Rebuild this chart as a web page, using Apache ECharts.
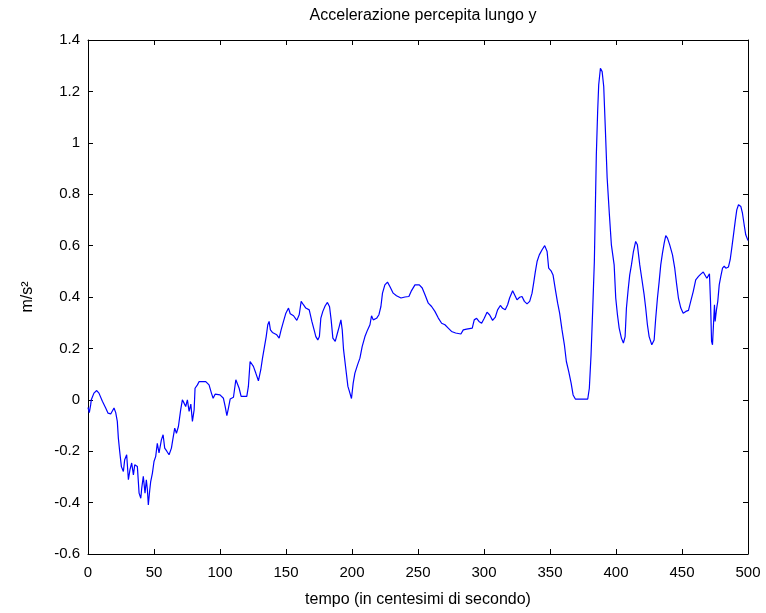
<!DOCTYPE html>
<html>
<head>
<meta charset="utf-8">
<title>Accelerazione percepita lungo y</title>
<script src="https://cdn.jsdelivr.net/npm/echarts@6/dist/echarts.min.js"></script>
<style>
  html, body { margin: 0; padding: 0; background: #ffffff; }
  #chart { width: 766px; height: 613px; }
</style>
</head>
<body>
<div id="chart"></div>
<script>
// Time samples (hundredths of a second)
const tempo = [
  0, 1, 2, 2.5, 4.5, 6.6, 8.3, 10.9, 13.4, 15.2, 17.2, 19.7, 21, 22.2, 23, 24, 25.3, 26.8, 27.8, 29.3,
  30.6, 31.8, 33.1, 34.4, 35.4, 37.4, 38.7, 40, 40.7, 41.9, 43.2, 44.2, 45, 45.7, 46.8, 47.5, 48.8, 50,
  51.3, 52.5, 53.8, 55.6, 56.9, 58.1, 59.7, 61.4, 63.2, 64.2, 65.7, 67, 68.5, 69.9, 70.2, 71.5, 72.8,
  74, 75.3, 76.6, 77.9, 79.1, 80.4, 81.1, 82.9, 84.2, 89.2, 91.7, 93.5, 94.8, 96.3, 100, 102.6, 103.9,
  105.2, 106.4, 107.7, 110.2, 112, 113.2, 114.5, 116, 120.3, 121.5, 122.8, 124, 125.3, 127.1, 129.1,
  130.9, 132.2, 133.7, 135, 136.2, 137.2, 138.2, 139.7, 143, 144.8, 146.3, 148.1, 149.9, 151.9, 153.2,
  155.7, 158.2, 160, 161.5, 163.2, 165, 167.6, 169.6, 171.3, 172.6, 174.1, 175.3, 176.4, 177.9, 179.7,
  181.4, 183, 184.2, 185.5, 187.3, 189, 190.3, 191.6, 192.6, 193.6, 195.4, 196.9, 198.1, 199.6, 200.9,
  202.2, 204.2, 206, 207.7, 209.8, 211.8, 213.6, 214.8, 216.1, 218.6, 220.4, 221.9, 223.1, 224.9,
  226.9, 228.7, 231.2, 233.7, 237.1, 240.1, 243.1, 245.1, 247.7, 251, 253.2, 255.3, 257.8, 260.3,
  262.8, 265.4, 267.9, 270.4, 272.9, 275.4, 278.5, 282.5, 284.3, 286.8, 291.1, 292.6, 294.4, 296.2,
  298.2, 300.2, 302.3, 304.3, 306.5, 308.6, 310.3, 312.4, 314.1, 316.1, 317.9, 319.4, 321.7, 323.2,
  325, 327, 328.8, 330.6, 332.6, 334.6, 336.4, 337.6, 338.9, 340.2, 341.9, 344, 346, 347.8, 349, 350.8,
  352.3, 354.1, 355.8, 357.3, 359.1, 360.9, 362.4, 364.2, 366, 367.5, 369.2, 378.6, 379.8, 381.1,
  382.3, 383.6, 384.4, 385.1, 386.1, 386.9, 388.2, 389.5, 390.7, 392, 393.3, 395, 396.5, 398.6, 399.8,
  401.1, 402.4, 404.1, 405.6, 406.9, 407.9, 409.2, 410.4, 411.7, 413.2, 414.9, 416.2, 418, 419.5,
  421.3, 422.5, 423.8, 425.1, 427.1, 428.9, 430.1, 431.4, 432.7, 433.9, 435.2, 436.5, 437.7, 439,
  440.7, 442.8, 444.5, 446, 447.3, 449.1, 450.9, 452.9, 454.9, 456.6, 458.5, 460.4, 462.5, 464.2,
  466.1, 467.5, 468.8, 470.1, 470.8, 471.6, 472.4, 473.1, 473.9, 474.6, 475.1, 476.1, 477.1, 478.2,
  479.4, 480.7, 482, 483.2, 485.2, 486.5, 487.7, 489, 490.3, 491.5, 492.8, 494.6, 495.8, 497.1, 498.3,
  500
];

// Perceived acceleration along y (m/s^2)
const accel = [
  -0.03, -0.05, -0.02, 0.0, 0.026, 0.036, 0.026, -0.006, -0.032, -0.052, -0.055, -0.032, -0.05, -0.084,
  -0.149, -0.2, -0.26, -0.279, -0.233, -0.214, -0.311, -0.272, -0.246, -0.292, -0.253, -0.26, -0.363,
  -0.383, -0.344, -0.298, -0.363, -0.311, -0.35, -0.409, -0.35, -0.318, -0.285, -0.24, -0.22, -0.169,
  -0.207, -0.156, -0.136, -0.188, -0.2, -0.214, -0.188, -0.156, -0.11, -0.13, -0.104, -0.104, -0.039,
  0.0, -0.013, -0.026, 0.0, -0.045, -0.017, -0.084, -0.039, 0.045, 0.058, 0.071, 0.071, 0.058, 0.026,
  0.006, 0.022, 0.019, 0.006, -0.026, -0.062, -0.032, 0.003, 0.01, 0.078, 0.084, 0.045, 0.013, 0.013,
  0.052, 0.149, 0.149, 0.13, 0.104, 0.074, 0.117, 0.162, 0.207, 0.246, 0.292, 0.305, 0.272, 0.262,
  0.253, 0.24, 0.272, 0.305, 0.337, 0.357, 0.335, 0.327, 0.309, 0.331, 0.383, 0.37, 0.357, 0.35, 0.305,
  0.272, 0.246, 0.233, 0.246, 0.318, 0.344, 0.366, 0.379, 0.362, 0.311, 0.24, 0.227, 0.26, 0.285, 0.311,
  0.272, 0.195, 0.117, 0.052, 0.032, 0.005, 0.065, 0.104, 0.136, 0.162, 0.207, 0.246, 0.272, 0.292,
  0.327, 0.311, 0.317, 0.331, 0.363, 0.415, 0.447, 0.458, 0.441, 0.415, 0.405, 0.396, 0.4, 0.402, 0.425,
  0.447, 0.447, 0.435, 0.409, 0.376, 0.363, 0.344, 0.318, 0.298, 0.292, 0.279, 0.266, 0.26, 0.256,
  0.272, 0.275, 0.279, 0.311, 0.317, 0.305, 0.298, 0.317, 0.341, 0.33, 0.309, 0.322, 0.35, 0.367, 0.356,
  0.35, 0.37, 0.396, 0.424, 0.419, 0.389, 0.399, 0.402, 0.383, 0.373, 0.383, 0.415, 0.454, 0.499,
  0.538, 0.564, 0.584, 0.6, 0.577, 0.512, 0.502, 0.486, 0.428, 0.376, 0.337, 0.272, 0.214, 0.149, 0.11,
  0.065, 0.019, 0.003, 0.003, 0.045, 0.175, 0.344, 0.538, 0.759, 0.953, 1.122, 1.226, 1.29, 1.277,
  1.219, 1.044, 0.863, 0.72, 0.603, 0.525, 0.396, 0.331, 0.279, 0.24, 0.221, 0.246, 0.357, 0.428,
  0.486, 0.525, 0.577, 0.616, 0.603, 0.525, 0.473, 0.409, 0.357, 0.292, 0.246, 0.214, 0.233, 0.318,
  0.396, 0.46, 0.525, 0.571, 0.61, 0.639, 0.629, 0.603, 0.564, 0.512, 0.447, 0.396, 0.357, 0.337,
  0.344, 0.348, 0.383, 0.421, 0.467, 0.48, 0.489, 0.497, 0.5, 0.473, 0.467, 0.49, 0.383, 0.227, 0.214,
  0.298, 0.37, 0.305, 0.35, 0.383, 0.447, 0.48, 0.512, 0.52, 0.512, 0.517, 0.545, 0.59, 0.642, 0.694,
  0.739, 0.759, 0.752, 0.726, 0.681, 0.642, 0.62
];

const xTicks = [0, 50, 100, 150, 200, 250, 300, 350, 400, 450, 500];
const yTicks = [-0.6, -0.4, -0.2, 0, 0.2, 0.4, 0.6, 0.8, 1, 1.2, 1.4];

const points = tempo.map((t, i) => [t, accel[i]]);

const FONT = 'Liberation Sans, Arial, sans-serif';
const axisLine = { show: true, onZero: false, lineStyle: { color: '#000', width: 1 } };
const axisTick = { show: true, inside: true, length: 5, lineStyle: { color: '#000', width: 1 } };

const chart = echarts.init(document.getElementById('chart'), null, { renderer: 'canvas' });

chart.setOption({
  animation: false,
  backgroundColor: '#ffffff',
  title: {
    text: 'Accelerazione percepita lungo y',
    left: 418, top: 3, textAlign: 'center',
    textStyle: { fontFamily: FONT, fontSize: 16, fontWeight: 'normal', color: '#000' }
  },
  grid: { left: 88, right: 18, top: 40, bottom: 59, show: false },
  xAxis: [
    {
      type: 'value', min: xTicks[0], max: xTicks[xTicks.length - 1], interval: 50,
      position: 'bottom',
      name: 'tempo (in centesimi di secondo)', nameLocation: 'middle', nameGap: 38,
      nameTextStyle: { fontFamily: FONT, fontSize: 16, color: '#000' },
      axisLine, axisTick,
      axisLabel: { fontFamily: FONT, fontSize: 15, color: '#000', margin: 11 },
      splitLine: { show: false }
    },
    {
      type: 'value', min: xTicks[0], max: xTicks[xTicks.length - 1], interval: 50,
      position: 'top',
      axisLine, axisTick, axisLabel: { show: false }, splitLine: { show: false }
    }
  ],
  yAxis: [
    {
      type: 'value', min: yTicks[0], max: yTicks[yTicks.length - 1], interval: 0.2,
      position: 'left',
      name: 'm/s²', nameLocation: 'middle', nameGap: 52, nameRotate: 90,
      nameTextStyle: { fontFamily: FONT, fontSize: 16, color: '#000' },
      axisLine, axisTick,
      axisLabel: {
        fontFamily: FONT, fontSize: 15, color: '#000', margin: 8,
        formatter: v => (Math.round(v * 10) / 10).toString()
      },
      splitLine: { show: false }
    },
    {
      type: 'value', min: yTicks[0], max: yTicks[yTicks.length - 1], interval: 0.2,
      position: 'right',
      axisLine, axisTick, axisLabel: { show: false }, splitLine: { show: false }
    }
  ],
  series: [{
    type: 'line',
    data: points,
    showSymbol: false,
    smooth: false,
    lineStyle: { color: '#0000ff', width: 1.2 },
    xAxisIndex: 0, yAxisIndex: 0
  }]
});
</script>
</body>
</html>
